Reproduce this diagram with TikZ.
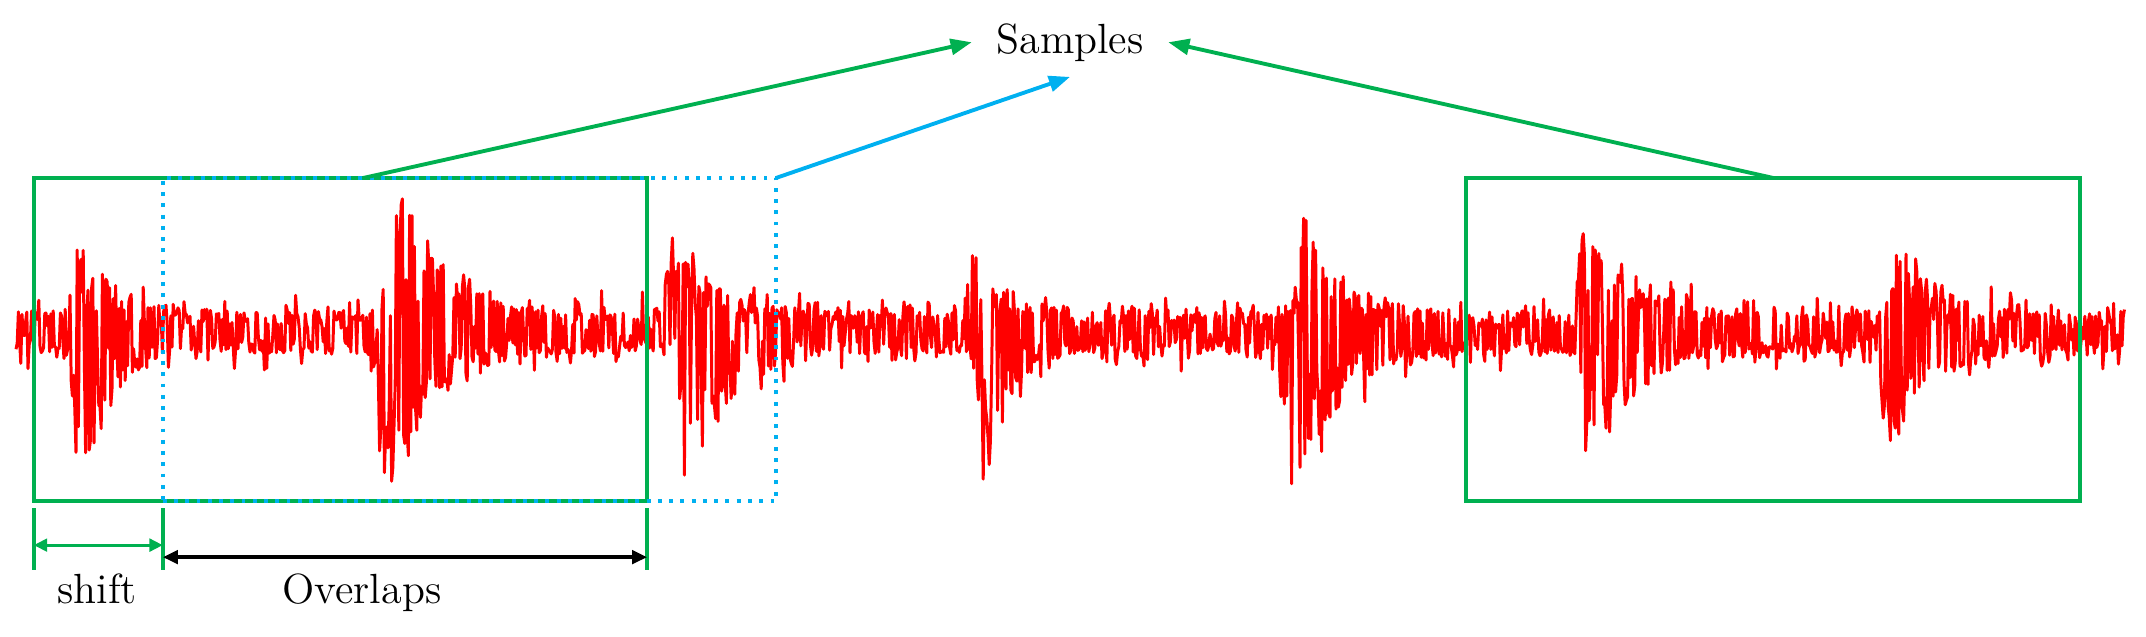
\documentclass[tikz,border=0pt]{standalone}
\usetikzlibrary{arrows.meta}
\definecolor{sgreen}{RGB}{0,176,80}
\definecolor{sblue}{RGB}{0,176,240}
\begin{document}
\begin{tikzpicture}[x=0.01cm,y=-0.01cm,
  declare function={g(\d,\w)=(\d<0) ? exp(0-((min(max(\d,-24),0)/8)^2)) : exp(0-min(max(\d,0)/\w,9));},
  sig/.style={draw=red, line width=0.85pt, line join=round},
  winbox/.style={draw=sgreen, line width=1.1pt, minimum width=6.13cm, minimum height=3.23cm, inner sep=0pt, outer sep=0pt},
  dotbox/.style={draw=sblue, line width=1.1pt, dash pattern=on 1.1pt off 2.1pt, minimum width=6.13cm, minimum height=3.23cm, inner sep=0pt, outer sep=0pt},
  tickline/.style={draw=sgreen, line width=1.1pt},
  lbl/.style={font=\fontsize{12}{14}\selectfont, inner sep=0pt},
  garrow/.style={draw=sgreen, line width=1.1pt, -{Triangle[length=6pt,width=4.5pt]}},
  barrow/.style={draw=sblue, line width=1.1pt, -{Triangle[length=6pt,width=4.5pt]}},
  shiftarrow/.style={draw=sgreen, line width=0.9pt, {Triangle[length=3.8pt,width=3.6pt]}-{Triangle[length=3.8pt,width=3.6pt]}},
  ovarrow/.style={draw=black, line width=1.1pt, {Triangle[length=4.3pt,width=3.8pt]}-{Triangle[length=4.3pt,width=3.8pt]}},
]
\useasboundingbox (0,0) rectangle (2146,636);
% ---- signal ----
\pgfmathsetseed{2718}
\gdef\sigpath{}
\foreach \i in {0,...,1757}{%
  \pgfmathsetmacro\sgX{16+1.2*\i}%
  \pgfmathsetmacro\sgU{80*g(\sgX-76,36)+172*g(\sgX-394,38)+74*g(\sgX-672,42)+85*g(\sgX-976,24)+98*g(\sgX-1305,36)+83*g(\sgX-1585,48)+68*g(\sgX-1900,36)}%
  \pgfmathsetmacro\sgD{172*g(\sgX-82,24)+172*g(\sgX-385,40)+152*g(\sgX-686,45)+135*g(\sgX-985,24)+175*g(\sgX-1290,40)+134*g(\sgX-1590,40)+98*g(\sgX-1888,40)}%
  \pgfmathsetmacro\sgR{rand}%
  \pgfmathsetmacro\sgA{sqrt(abs(\sgR))}%
  \pgfmathsetmacro\sgB{27*(0.75+0.85*rnd^5)}%
  \pgfmathsetmacro\sgY{(\sgR>0) ? 332-\sgA*(\sgB+\sgU) : 332+\sgA*(\sgB+\sgD)}%
  \xdef\sigpath{\sigpath (\sgX,\sgY)}%
}
\edef\drawsig{\noexpand\draw[sig] plot coordinates {\sigpath};}
\drawsig
% ---- windows ----
\node[winbox] (w1) at (340.5,339.5) {};
\node[winbox] (w3) at (1773,339.5) {};
\node[dotbox] (w2) at (469.5,339.5) {};
% ---- label ----
\node[lbl, inner xsep=2.4mm, inner ysep=1.5mm, anchor=base] (samples) at (1070,53) {Samples};
\draw[garrow] ([xshift=0.23cm]w1.north) -- (samples.west);
\draw[barrow] (w2.north east) -- (samples.south);
\draw[garrow] (w3.north) -- (samples.east);
% ---- ticks and spans ----
\draw[tickline] ([yshift=-0.07cm]w1.south west) -- ([yshift=-0.69cm]w1.south west);
\draw[tickline] ([yshift=-0.07cm]w2.south west) -- ([yshift=-0.69cm]w2.south west);
\draw[tickline] ([yshift=-0.07cm]w1.south east) -- ([yshift=-0.69cm]w1.south east);
\draw[shiftarrow] ([yshift=-0.44cm]w1.south west) -- ([yshift=-0.44cm]w2.south west);
\draw[ovarrow] ([yshift=-0.56cm]w2.south west) -- ([yshift=-0.56cm]w1.south east);
\node[lbl, anchor=base] (shiftlbl) at (97,603) {shift};
\node[lbl, anchor=base] (ovlbl) at (362,603) {Overlaps};
\end{tikzpicture}
\end{document}
